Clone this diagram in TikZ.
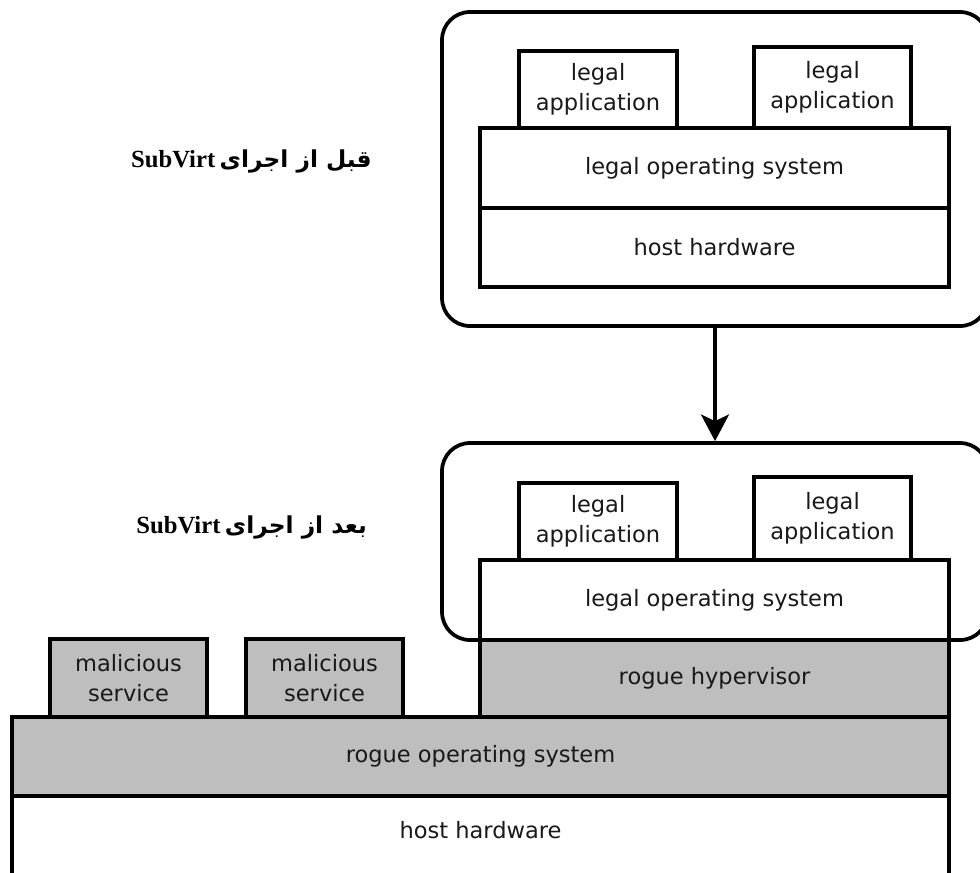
\documentclass[tikz,border=0pt]{standalone}
\usepackage{fontspec}
\usetikzlibrary{arrows.meta}
\TeXXeTstate=1
\newfontfamily\boxfont{DejaVu Sans}
\newfontfamily\arabicfont[Script=Arabic]{DejaVu Sans}
\newfontfamily\latinserif{Liberation Serif}
\definecolor{rogue}{RGB}{190,190,190}
% box from pixel corners (x1,y1) to (x2,y2)
\newcommand{\pxbox}[6]{\node[#1, minimum width={(#5-#3)*0.75pt}, minimum height={(#6-#4)*0.75pt}] (#2) at ({(#3+#5)/2},{(#4+#6)/2})}
\begin{document}
\begin{tikzpicture}[x=0.75pt,y=-0.75pt,
  layer/.style={draw, line width=2.8pt, inner sep=0pt, align=center, fill=white, text=black!90, font=\boxfont\fontsize{16.9}{22.5}\selectfont},
  roguelayer/.style={layer, fill=rogue},
  frame/.style={draw, line width=2.8pt, rounded corners=21pt, inner sep=0pt},
  plaintext/.style={inner sep=0pt, text=black!90, font=\boxfont\fontsize{16.9}{22.5}\selectfont},
  caption/.style={anchor=base east, inner sep=0pt, text=black},
  arr/.style={line width=2.8pt, -{Stealth[length=20pt,width=21pt,inset=5pt]}}]
\useasboundingbox (0,0) rectangle (980,872);
% frames
\pxbox{frame}{before}{442}{12}{988}{326} {};
\pxbox{frame}{after}{442}{443}{988}{640} {};
% before SubVirt
\pxbox{layer}{app1}{519}{51}{677}{128} {legal\\application};
\pxbox{layer}{app2}{754}{47}{911}{128} {legal\\application};
\pxbox{layer}{os1}{480}{128}{949}{208} {legal operating system};
\pxbox{layer}{hw1}{480}{208}{949}{287} {host hardware};
\draw[arr] (before.south) -- (after.north);
% after SubVirt
\pxbox{layer}{app3}{519}{483}{677}{560} {legal\\application};
\pxbox{layer}{app4}{754}{477}{911}{560} {legal\\application};
\pxbox{layer}{os2}{480}{560}{949}{640} {legal operating system};
\pxbox{roguelayer}{hyp}{480}{640}{949}{717} {rogue hypervisor};
\pxbox{roguelayer}{mal1}{50}{639}{207}{718} {malicious\\service};
\pxbox{roguelayer}{mal2}{246}{639}{403}{718} {malicious\\service};
\pxbox{roguelayer}{ros}{12}{717}{949}{796} {rogue operating system};
\pxbox{layer}{hw2}{12}{796}{949}{895} {};
\node[plaintext] (hw2label) at (480.5,830) {host hardware};
% captions
\node[caption] (cap1) at (372,167) {{\latinserif\bfseries\fontsize{18.5}{20}\selectfont SubVirt} {\arabicfont\bfseries\fontsize{17.5}{20}\selectfont\beginR قبل از اجرای\endR}};
\node[caption] (cap2) at (367,533) {{\latinserif\bfseries\fontsize{18.5}{20}\selectfont SubVirt} {\arabicfont\bfseries\fontsize{17.5}{20}\selectfont\beginR بعد از اجرای\endR}};
\end{tikzpicture}
\end{document}
